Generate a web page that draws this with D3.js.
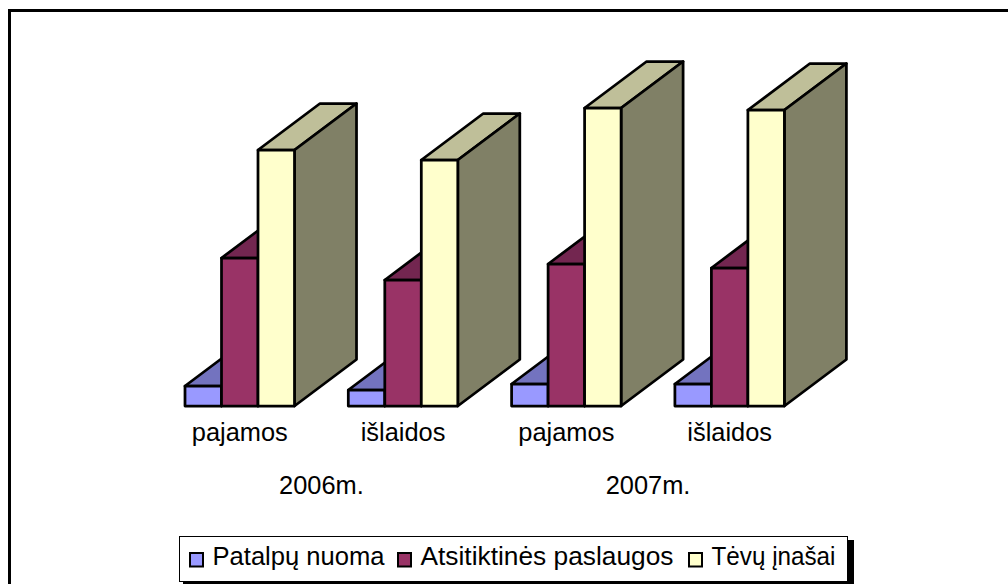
<!DOCTYPE html>
<html lang="lt">

<head>
    <meta charset="UTF-8">
    <title>Pajamos ir išlaidos</title>
    <script src="https://d3js.org/d3.v7.min.js"></script>
    <style>
        html, body {
            margin: 0;
            padding: 0;
            background: #fff;
            overflow: hidden;
        }

        svg {
            display: block;
            font-family: "Liberation Sans", Arial, sans-serif;
        }

        .axis text {
            font-size: 25.4px;
            fill: #000;
            font-family: "Liberation Sans", Arial, sans-serif;
        }

        .legend text {
            font-size: 25.5px;
            fill: #000;
        }
    </style>
</head>

<body>
    <svg id="chart" width="1008" height="584"></svg>
</body>
<script>
    const slots = ["2006m. pajamos", "2006m. išlaidos", "2007m. pajamos", "2007m. išlaidos"];
    const slotLabels = ["pajamos", "išlaidos", "pajamos", "išlaidos"];
    const years = ["2006m.", "2007m."];
    const seriesNames = ["Patalpų nuoma", "Atsitiktinės paslaugos", "Tėvų įnašai"];

    // no axis in the original so units are arbitrary
    const patalpuNuoma = [20, 16, 22, 22];
    const atsitiktines = [148, 126, 142, 138];
    const tevuInasai = [256, 246, 298, 296];
    const seriesValues = [patalpuNuoma, atsitiktines, tevuInasai];

    const frontColors = ["#9999ff", "#993366", "#ffffcc"];
    const topColors = ["#7373bf", "#732650", "#bfbf99"];
    const sideColors = ["#4d4d80", "#4d1a33", "#808066"];

    const baseY = 406, depthX = 62, depthY = 46.5;

    const svg = d3.select("#chart");

    // outer frame runs off the right and bottom of the picture
    svg.append("rect")
        .attr("x", 9.5).attr("y", 10.5)
        .attr("width", 1010).attr("height", 590)
        .attr("fill", "#fff").attr("stroke", "#000").attr("stroke-width", 3);

    const groupStep = 163.3, groupWidth = 109.5;

    const x0 = d3.scaleBand()
        .domain(slots)
        .range([185, 185 + groupStep * slots.length]);

    const x1 = d3.scaleBand()
        .domain(d3.range(3))
        .range([0, groupWidth]);

    const y = d3.scaleLinear()
        .domain([0, 300])
        .range([baseY, baseY - 300]);

    const line = d3.line();

    function drawBar(g, slot, s, value) {
        const left = x0(slot) + x1(s);
        const right = left + x1.bandwidth();
        const top = y(value);
        const outline = pts => g.append("path")
            .attr("d", line(pts) + "Z")
            .attr("stroke", "#000")
            .attr("stroke-width", 2.75)
            .attr("stroke-linejoin", "round");

        // top face
        outline([[left, top], [right, top], [right + depthX, top - depthY], [left + depthX, top - depthY]])
            .attr("fill", topColors[s]);
        // side face
        outline([[right, top], [right + depthX, top - depthY], [right + depthX, baseY - depthY], [right, baseY]])
            .attr("fill", sideColors[s]);
        // front face
        outline([[left, top], [right, top], [right, baseY], [left, baseY]])
            .attr("fill", frontColors[s]);
    }

    const bars = svg.append("g");
    slots.forEach((slot, i) => {
        seriesValues.forEach((values, s) => {
            drawBar(bars, slot, s, values[i]);
        });
    });

    // category labels sit under the front of each group, not the middle of its band
    const labelShift = groupWidth / 2 - groupStep / 2;
    const slotAxis = d3.scaleBand()
        .domain(slots)
        .range(x0.range().map(d => d + labelShift));

    svg.append("g")
        .attr("class", "axis")
        .attr("transform", "translate(0,420)")
        .call(d3.axisBottom(slotAxis).tickSize(0).tickFormat((d, i) => slotLabels[i]))
        .call(g => g.select(".domain").remove());

    const yearAxis = d3.scaleBand()
        .domain(years)
        .range(slotAxis.range());

    svg.append("g")
        .attr("class", "axis")
        .attr("transform", "translate(0,473)")
        .call(d3.axisBottom(yearAxis).tickSize(0))
        .call(g => g.select(".domain").remove());

    // legend
    const legend = svg.append("g").attr("class", "legend");
    legend.append("rect")
        .attr("x", 183).attr("y", 540)
        .attr("width", 671).attr("height", 46)
        .attr("fill", "#000");
    legend.append("rect")
        .attr("x", 179.5).attr("y", 536.5)
        .attr("width", 668).attr("height", 45)
        .attr("fill", "#fff").attr("stroke", "#000").attr("stroke-width", 1);

    const swatchX = d3.scaleOrdinal().domain(seriesNames).range([189, 397, 688]);
    const textWidth = d3.scaleOrdinal().domain(seriesNames).range([172, 253, 124]);
    const item = legend.selectAll(".item")
        .data(seriesNames)
        .enter().append("g")
        .attr("class", "item")
        .attr("transform", d => "translate(" + swatchX(d) + ",552)");

    item.append("rect")
        .attr("x", 1).attr("y", 1)
        .attr("width", 13).attr("height", 13.5)
        .attr("stroke", "#000").attr("stroke-width", 2)
        .attr("fill", (d, i) => frontColors[i]);

    item.append("text")
        .attr("x", 23.5)
        .attr("y", 13)
        .attr("textLength", d => textWidth(d))
        .attr("lengthAdjust", "spacingAndGlyphs")
        .text(d => d);
</script>

</html>
